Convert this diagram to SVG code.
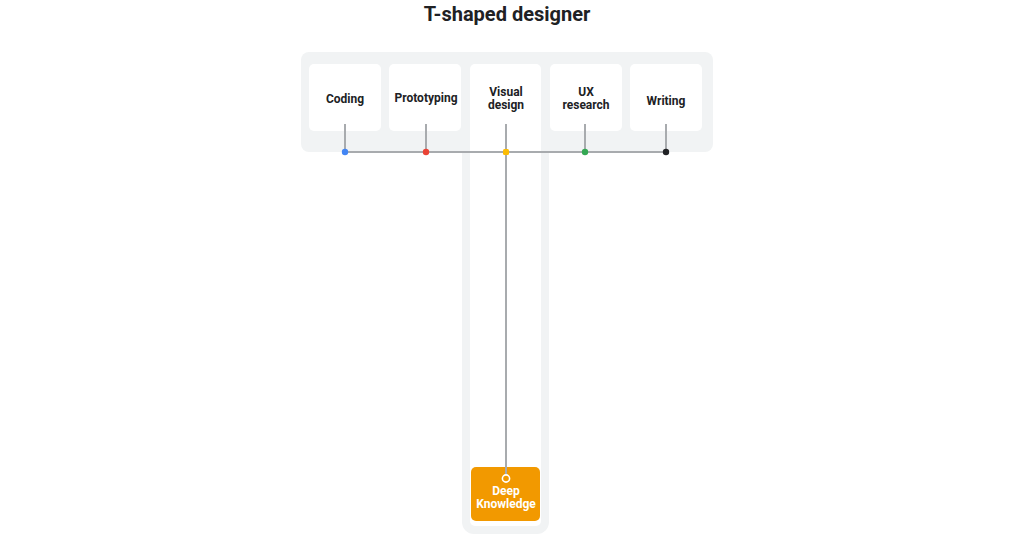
<svg xmlns="http://www.w3.org/2000/svg" width="1024" height="545" viewBox="0 0 1024 545">
<style>
.bg{fill:#f1f3f4}
.card{fill:#ffffff}
.lbl{font-family:Roboto,"Liberation Sans",sans-serif;font-size:12px;font-weight:bold;fill:#202124;text-anchor:middle}
.wl{fill:#ffffff}
.ln{stroke:#a8abae;stroke-width:2;fill:none}
</style>
<rect width="1024" height="545" fill="#ffffff"/>
<text x="507" y="21" font-family="Roboto,'Liberation Sans',sans-serif" font-size="20" font-weight="bold" fill="#202124" text-anchor="middle">T-shaped designer</text>
<g id="frame">
<rect class="bg" x="301" y="52" width="412" height="100" rx="8"/>
<rect class="bg" x="462" y="130" width="87" height="404" rx="12"/>
</g>
<g id="coding"><rect class="card" x="309" y="64" width="72" height="67" rx="5"/><text class="lbl" x="345" y="103">Coding</text></g>
<g id="prototyping"><rect class="card" x="389" y="64" width="72" height="67" rx="5"/><text class="lbl" x="426" y="102">Prototyping</text></g>
<g id="visual"><rect class="card" x="470" y="64" width="71" height="462" rx="5"/><text class="lbl" x="506" y="96">Visual</text><text class="lbl" x="506" y="109">design</text></g>
<g id="ux"><rect class="card" x="550" y="64" width="72" height="67" rx="5"/><text class="lbl" x="586" y="96">UX</text><text class="lbl" x="586" y="109">research</text></g>
<g id="writing"><rect class="card" x="630" y="64" width="72" height="67" rx="5"/><text class="lbl" x="666" y="105">Writing</text></g>
<g id="deep"><rect x="471" y="467" width="69" height="54" rx="5" fill="#f29900"/><text class="lbl wl" x="506" y="495">Deep</text><text class="lbl wl" x="506" y="508">Knowledge</text></g>
<g id="connectors">
<line class="ln" x1="345" y1="124" x2="345" y2="152"/>
<line class="ln" x1="426" y1="124" x2="426" y2="152"/>
<line class="ln" x1="506" y1="124" x2="506" y2="474"/>
<line class="ln" x1="585" y1="124" x2="585" y2="152"/>
<line class="ln" x1="666" y1="124" x2="666" y2="152"/>
<line class="ln" x1="345" y1="152" x2="666" y2="152"/>
<circle cx="345" cy="152" r="3.2" fill="#4285f4"/>
<circle cx="426" cy="152" r="3.2" fill="#ea4335"/>
<rect x="503" y="149" width="6" height="6" rx="1.5" fill="#fbbc04"/>
<circle cx="585" cy="152" r="3.2" fill="#34a853"/>
<circle cx="666" cy="152" r="3.2" fill="#202124"/>
<circle cx="506" cy="478.5" r="3.6" fill="none" stroke="#ffffff" stroke-width="1.6"/>
</g>
</svg>
